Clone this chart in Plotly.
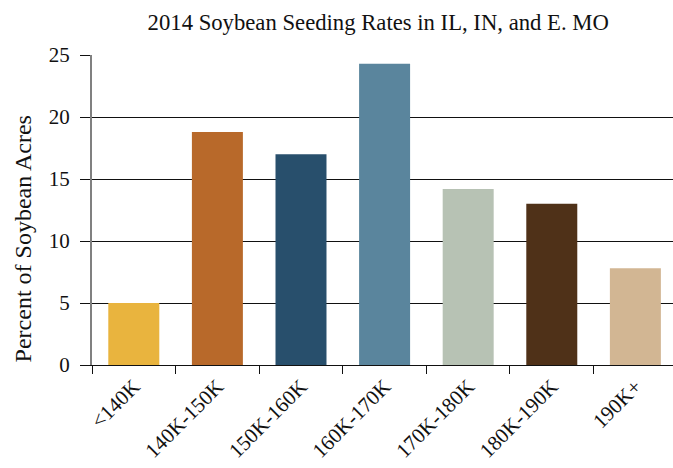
import plotly.graph_objects as go

# Seeding-rate bins (seeds per acre) and share of soybean acres in each
categories = ["<140K", "140K-150K", "150K-160K", "160K-170K", "170K-180K", "180K-190K", "190K+"]
percent_acres = [5.0, 18.8, 17.0, 24.3, 14.2, 13.0, 7.8]
bar_colors = ["#E9B43E", "#B8692A", "#284F6C", "#5A859D", "#B7C2B4", "#4F3118", "#D2B693"]
y_ticks = [0, 5, 10, 15, 20, 25]

FONT = "Liberation Serif, Times New Roman, serif"

fig = go.Figure(
    go.Bar(
        x=categories,
        y=percent_acres,
        marker=dict(color=bar_colors, line=dict(width=0)),
        width=0.61,
    )
)

fig.update_layout(
    width=673,
    height=468,
    margin=dict(l=92, r=0, t=55, b=103),
    paper_bgcolor="white",
    plot_bgcolor="white",
    showlegend=False,
    font=dict(family=FONT, color="#111111", size=21),
    title=dict(
        text="2014 Soybean Seeding Rates in IL, IN, and E. MO",
        x=0.562,
        xanchor="center",
        y=0.953,
        yanchor="middle",
        font=dict(family=FONT, size=22.7, color="#111111"),
    ),
    # vertical axis caption, placed a little below the plot's midpoint
    annotations=[
        dict(
            text="Percent of Soybean Acres",
            textangle=-90,
            xref="paper",
            yref="paper",
            x=-0.119,
            y=0.408,
            xanchor="center",
            yanchor="middle",
            showarrow=False,
            font=dict(family=FONT, size=24, color="#111111"),
        )
    ],
)

fig.update_xaxes(
    type="category",
    range=[-0.5, 6.45],
    tickangle=-45,
    tickson="boundaries",
    ticks="outside",
    ticklen=8,
    tickcolor="#111111",
    tickwidth=1,
    showline=True,
    linecolor="#111111",
    linewidth=1,
    showgrid=False,
    tickfont=dict(family=FONT, size=21, color="#111111"),
)

fig.update_yaxes(
    range=[0, 25],
    tickvals=y_ticks,
    ticks="outside",
    ticklen=10,
    tickcolor="#111111",
    tickwidth=1,
    ticklabelstandoff=6,
    showline=True,
    linecolor="#808080",
    linewidth=2,
    showgrid=True,
    gridcolor="#111111",
    gridwidth=1,
    zeroline=False,
    tickfont=dict(family=FONT, size=21, color="#111111"),
)

fig.write_html("out.html")
